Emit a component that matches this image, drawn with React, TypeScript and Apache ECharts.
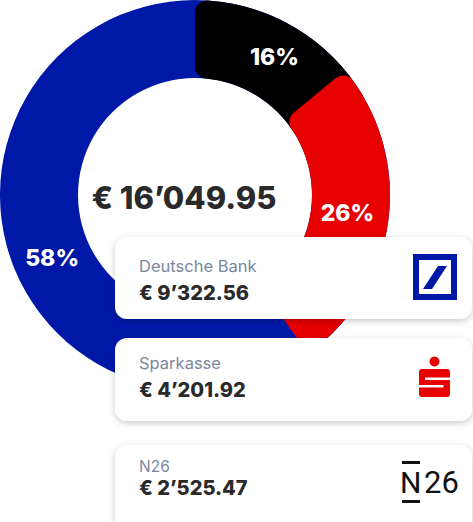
import React, { useEffect, useRef } from "react";
import * as echarts from "echarts";

// ---- data ----
const banks = ["Deutsche Bank", "Sparkasse", "N26"];
const balances = [9322.56, 4201.92, 2525.47];
// clockwise order on the ring, starting at 12 o'clock (indices into banks)
const ringOrder = [2, 1, 0];

// ---- styles ----
const bankColors = ["#0018A8", "#E60000", "#000000"];
const FONT = "Inter, 'Noto Sans', sans-serif";
const CX = 195;
const CY = 195;
const R_IN = 117;
const R_OUT = 195;
const OVERLAP_DEG = 6.4; // later slices tuck their rounded start over the previous one
const CORNER = 12;

function fmt(v: number): string {
  const [i, d] = v.toFixed(2).split(".");
  return "€ " + i.replace(/\B(?=(\d{3})+(?!\d))/g, "\u2019") + "." + d;
}

const clear = "rgba(0,0,0,0)";
const sum = (idx: number[]) => idx.reduce((s, i) => s + balances[i], 0);

export default function App() {
  const ref = useRef<HTMLDivElement>(null);

  useEffect(() => {
    document.body.style.margin = "0";
    if (!ref.current) return;
    const chart = echarts.init(ref.current, undefined, { renderer: "svg" });
    const total = sum(ringOrder);
    const n = ringOrder.length;
    const overlapValue = (OVERLAP_DEG / 360) * total;

    const base: any = {
      type: "pie",
      center: [CX, CY],
      radius: [R_IN, R_OUT],
      startAngle: 90,
      label: { show: false },
      labelLine: { show: false },
    };

    // background ring: the last slice clockwise
    const layers: any[] = [
      {
        ...base,
        z: 1,
        data: [{ value: total, itemStyle: { color: bankColors[ringOrder[n - 1]] } }],
      },
    ];
    for (let pos = 0; pos < n - 1; pos++) {
      const bankIdx = ringOrder[pos];
      const before = sum(ringOrder.slice(0, pos));
      const own = balances[bankIdx] + (pos < n - 2 ? overlapValue : 0);
      const data: any[] = [];
      if (before > 0) data.push({ value: before, itemStyle: { color: clear } });
      data.push({ value: own, itemStyle: { color: bankColors[bankIdx] } });
      data.push({ value: total - before - own, itemStyle: { color: clear } });
      layers.push({
        ...base,
        z: pos + 2,
        startAngle: 90 + (pos > 0 ? OVERLAP_DEG : 0),
        itemStyle: { borderRadius: CORNER },
        data,
      });
    }

    const labelOffsets = [
      [4, 2],
      [-2, -20],
      [11, 23],
    ];

    const labelSeries: any = {
      ...base,
      z: 10,
      percentPrecision: 0,
      itemStyle: { color: clear },
      data: ringOrder.map((i) => ({ name: banks[i], value: balances[i] })),
      label: {
        show: true,
        position: "inside",
        formatter: "{d}%",
        color: "#ffffff",
        fontFamily: FONT,
        fontWeight: 800,
        fontSize: 23,
      },
      labelLayout: (p: any) => ({
        dx: labelOffsets[p.dataIndex][0],
        dy: labelOffsets[p.dataIndex][1],
      }),
    };

    const cards = [
      { y: 237, h: 82, nameY: 266, amtY: 293, nameSize: 16.5 },
      { y: 338, h: 83, nameY: 363, amtY: 390, nameSize: 16.5 },
      { y: 445, h: 90, nameY: 466, amtY: 488, nameSize: 15.5 },
    ];

    const cardEls: any[] = cards.map((c, i) => ({
      type: "group",
      children: [
        {
          type: "rect",
          shape: { x: 115, y: c.y, width: 357, height: c.h, r: 12 },
          style: {
            fill: "#ffffff",
            shadowBlur: 6,
            shadowOffsetY: 2,
            shadowColor: "rgba(0,0,0,0.22)",
          },
          z: 20,
        },
        {
          type: "text",
          x: 139,
          y: c.nameY,
          style: {
            text: banks[i],
            fill: "#7B879C",
            fontFamily: FONT,
            fontSize: c.nameSize,
            fontWeight: 400,
            verticalAlign: "middle",
            align: "left",
          },
          z: 21,
        },
        {
          type: "text",
          x: 139,
          y: c.amtY,
          style: {
            text: fmt(balances[i]),
            fill: "#2A2A2A",
            fontFamily: FONT,
            fontSize: 20,
            fontWeight: 800,
            verticalAlign: "middle",
            align: "left",
          },
          z: 21,
        },
      ],
    }));

    const logos: any[] = [
      // Deutsche Bank
      {
        type: "rect",
        shape: { x: 416, y: 257, width: 38, height: 40 },
        style: { fill: "none", stroke: "#0018A8", lineWidth: 6 },
        z: 22,
      },
      {
        type: "polygon",
        shape: { points: [[423, 289], [432, 289], [447, 266], [438, 266]] },
        style: { fill: "#0018A8" },
        z: 22,
      },
      // Sparkasse
      {
        type: "circle",
        shape: { cx: 434.5, cy: 361.5, r: 5 },
        style: { fill: "#E60000" },
        z: 22,
      },
      {
        type: "rect",
        shape: { x: 419, y: 369, width: 31, height: 28, r: 3 },
        style: { fill: "#E60000" },
        z: 22,
      },
      {
        type: "rect",
        shape: { x: 425, y: 377.5, width: 26, height: 2.5 },
        style: { fill: "#ffffff" },
        z: 23,
      },
      {
        type: "rect",
        shape: { x: 418, y: 385, width: 25.5, height: 2.5 },
        style: { fill: "#ffffff" },
        z: 23,
      },
      // N26
      {
        type: "text",
        x: 400,
        y: 482,
        style: {
          text: "N",
          fill: "#111111",
          fontFamily: "Roboto, sans-serif",
          fontSize: 30,
          fontWeight: 400,
          verticalAlign: "middle",
          align: "left",
        },
        z: 22,
      },
      {
        type: "text",
        x: 424,
        y: 482,
        style: {
          text: "26",
          fill: "#111111",
          fontFamily: "Roboto, sans-serif",
          fontSize: 31,
          fontWeight: 400,
          verticalAlign: "middle",
          align: "left",
        },
        z: 22,
      },
      {
        type: "rect",
        shape: { x: 402, y: 461, width: 18, height: 3 },
        style: { fill: "#111111" },
        z: 22,
      },
      {
        type: "rect",
        shape: { x: 402, y: 500, width: 18, height: 3 },
        style: { fill: "#111111" },
        z: 22,
      },
    ];

    chart.setOption({
      animation: false,
      tooltip: { show: false },
      series: [...layers, labelSeries],
      graphic: [
        {
          type: "text",
          x: 184,
          y: 197,
          style: {
            text: fmt(total),
            fill: "#2A2A2A",
            fontFamily: FONT,
            fontSize: 31,
            fontWeight: 800,
            align: "center",
            verticalAlign: "middle",
          },
          z: 15,
        },
        ...cardEls,
        ...logos,
      ],
    });

    return () => chart.dispose();
  }, []);

  return <div ref={ref} style={{ width: 473, height: 522 }} />;
}
